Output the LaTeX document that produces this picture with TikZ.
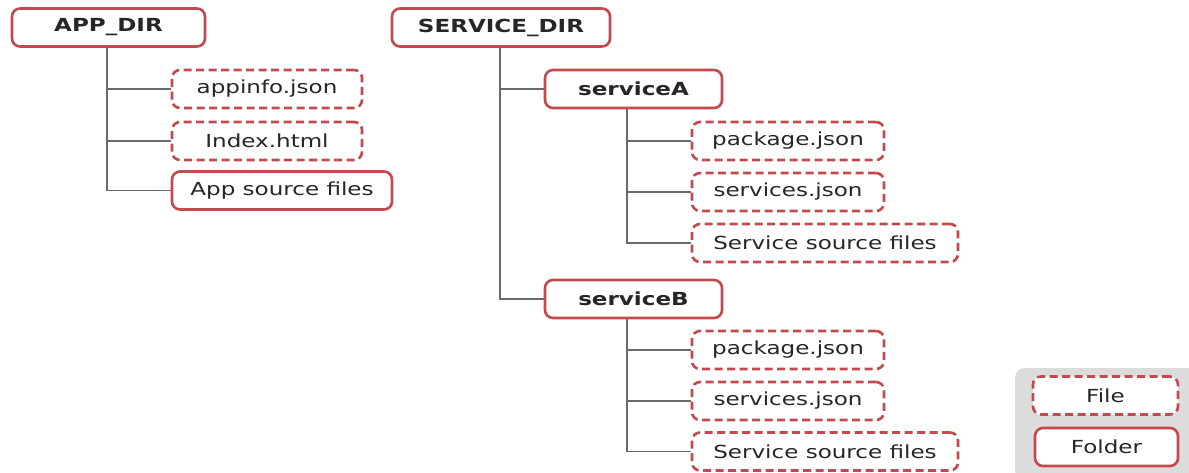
\documentclass[tikz,border=0pt]{standalone}
\usepackage{fontspec}
\setmainfont{DejaVu Sans}[FakeStretch=1.28]
\usetikzlibrary{backgrounds}
\definecolor{bred}{HTML}{C24A4C}
\definecolor{conncol}{HTML}{6A6A6A}
\definecolor{legbg}{HTML}{DCDCDC}
\begin{document}
\begin{tikzpicture}[x=1pt,y=-1pt,
  box/.style={rounded corners=8pt, line width=2.6pt, draw=bred, fill=white, inner sep=0pt,
    font=\fontsize{18}{21}\selectfont, text=black!85, minimum height=38pt},
  folder/.style={box},
  filebox/.style={box, dash pattern=on 8pt off 4.5pt},
  conn/.style={draw=conncol, line width=1.8pt}]
\useasboundingbox (0,0) rectangle (1189,472);
% legend background
\fill[legbg, rounded corners=10pt] (1189,368) -- (1015,368) -- (1015,480) -- (1189,480);
% left tree
\node[folder, minimum width=193pt] (app) at (108.5,27.5) {\bfseries APP\_DIR};
\node[filebox, minimum width=190pt] (appinfo) at (267,89) {appinfo.json};
\node[filebox, minimum width=190pt] (index) at (267,141) {Index.html};
\node[folder, minimum width=220pt] (asrc) at (282,190.5) {App source files};
% right tree
\node[folder, minimum width=218pt] (svc) at (501,27.5) {\bfseries SERVICE\_DIR};
\node[folder, minimum width=177pt] (sa) at (633.5,89) {\bfseries serviceA};
\node[filebox, minimum width=192pt] (pa) at (788,141) {package.json};
\node[filebox, minimum width=192pt] (sja) at (788,192) {services.json};
\node[filebox, minimum width=266pt] (ssa) at (825,243) {Service source files};
\node[folder, minimum width=177pt] (sb) at (633.5,299) {\bfseries serviceB};
\node[filebox, minimum width=192pt] (pb) at (788,350) {package.json};
\node[filebox, minimum width=192pt] (sjb) at (788,401) {services.json};
\node[filebox, minimum width=266pt] (ssb) at (825,451.5) {Service source files};
% legend
\node[filebox, minimum width=145pt] (lfile) at (1105.5,395.5) {File};
\node[folder, minimum width=143pt] (lfolder) at (1106.5,447) {Folder};
\begin{scope}[on background layer]
\draw[conn] ([xshift=-1.5pt]app.south) |- (asrc.west);
\draw[conn] ([xshift=-1.5pt]app.south |- appinfo.west) -- (appinfo.west);
\draw[conn] ([xshift=-1.5pt]app.south |- index.west) -- (index.west);
\draw[conn] ([xshift=-1pt]svc.south) |- (sb.west);
\draw[conn] ([xshift=-1pt]svc.south |- sa.west) -- (sa.west);
\draw[conn] ([xshift=-6.5pt]sa.south) |- (ssa.west);
\draw[conn] ([xshift=-6.5pt]sa.south |- pa.west) -- (pa.west);
\draw[conn] ([xshift=-6.5pt]sa.south |- sja.west) -- (sja.west);
\draw[conn] ([xshift=-6.5pt]sb.south) |- (ssb.west);
\draw[conn] ([xshift=-6.5pt]sb.south |- pb.west) -- (pb.west);
\draw[conn] ([xshift=-6.5pt]sb.south |- sjb.west) -- (sjb.west);
\end{scope}
\end{tikzpicture}
\end{document}
